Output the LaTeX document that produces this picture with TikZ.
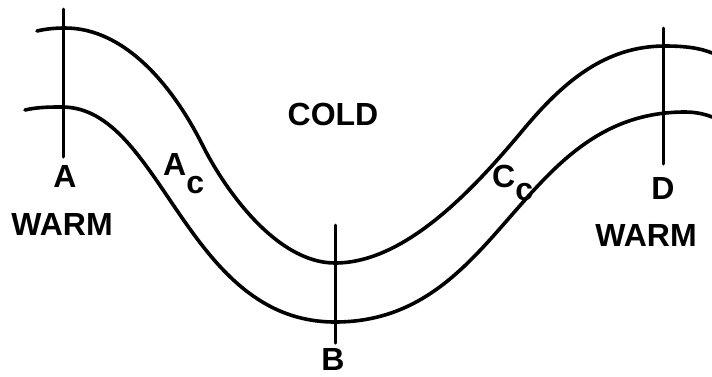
\documentclass[tikz,border=0pt]{standalone}
\usepackage{fontspec}
\setmainfont{Liberation Sans}
\usetikzlibrary{positioning}

\begin{document}
\begin{tikzpicture}[
  x=1pt, y=-1pt,
  front/.style={line width=3.6pt, line cap=round, line join=round},
  section/.style={line width=3pt, line cap=round},
  lbl/.style={font=\fontsize{32}{32}\selectfont\bfseries, inner sep=0pt},
  sublbl/.style={lbl, anchor=base west},
]
\useasboundingbox (0,0) rectangle (712,376);

% === Fronts (the cold band lies between them) ===
% upper one
\draw[front] (37,31) .. controls (45,29) and (55,28) .. (65,28)
  .. controls (125,28) and (173,86) .. (203,146)
  .. controls (223,186) and (275,263) .. (335,263)
  .. controls (405,263) and (473,190) .. (523,130)
  .. controls (563,82) and (605,46) .. (665,46)
  .. controls (685,46) and (700,48) .. (712,53);
% lower one
\draw[front] (25,110) .. controls (38,107) and (50,107) .. (62,107)
  .. controls (162,107) and (185,322) .. (335,322)
  .. controls (502,322) and (518,112) .. (685,112)
  .. controls (695,112) and (705,114) .. (712,117);

% === Cross sections ===
\coordinate (atop) at (63,9);
\coordinate (abot) at (63,157);
\coordinate (btop) at (335,225);
\coordinate (bbot) at (335,343);
\coordinate (dtop) at (663,28);
\coordinate (dbot) at (663,164);

\draw[section] (atop) -- (abot);
\draw[section] (btop) -- (bbot);
\draw[section] (dtop) -- (dbot);

% === Labels ===
\node[lbl, below=8pt of abot, xshift=2pt] (a) {A};
\node[lbl, below=5pt of bbot, xshift=-2pt] (b) {B};
\node[lbl, below=13pt of dbot] (d) {D};

\node[lbl] (warmw) at (62,224) {WARM};
\node[lbl] (warme) at (646,235) {WARM};
\node[lbl] (cold) at (333,114) {COLD};

\node[sublbl] (ac) at (163,175) {A\raisebox{-18pt}{c}};
\node[sublbl] (cc) at (492,187) {C\raisebox{-13pt}{c}};

\end{tikzpicture}
\end{document}
